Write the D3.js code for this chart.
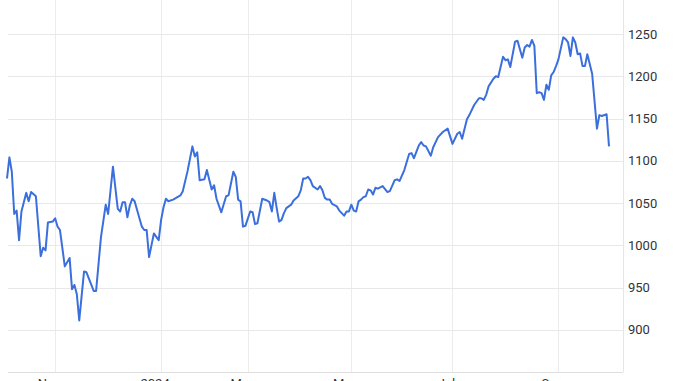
<!DOCTYPE html>
<html>
<head>
<meta charset="utf-8">
<title>Price chart</title>
<script src="https://cdn.jsdelivr.net/npm/d3@7"></script>
<style>
  html, body { margin: 0; padding: 0; background: #fff; }
  svg { display: block; font-family: Roboto, "Noto Sans", Arial, sans-serif; }
</style>
</head>
<body>
<script>
// trading session index (0 = first session shown) and closing value
const sessions = [0,1,2,3,4,5,6,8,9,10,12,14,15,16,17,19,20,21,22,24,26,27,28,29,30,32,33,36,37,39,41,42,44,
  46,47,48,49,50,51,52,53,56,57,58,59,61,62,63,64,65,66,67,69,72,73,75,77,78,79,80,82,83,85,86,87,89,
  91,92,94,95,96,97,98,99,101,102,103,104,106,108,109,110,111,112,113,114,115,116,117,118,119,121,122,
  123,124,125,126,127,129,130,131,132,133,134,135,137,138,140,141,142,143,144,145,146,147,148,149,150,
  151,152,153,154,156,158,159,161,162,163,165,167,168,169,171,172,173,174,176,177,179,181,183,185,187,
  188,189,191,192,194,196,197,198,199,200,202,203,204,206,207,208,209,211,212,214,215,216,217,218,219,
  220,221,222,223,224,225,226,227,228,229,231,232,233,234,235,236,237,238,239,240,241,243,245,246,247,249,250];
const closes = [1079,1104,1087,1037,1041,1006,1040,1062,1052,1063,1058,987,997,994,1027,1028,1032,1022,1018,
  975,985,948,953,942,911,969,968,946,946,1009,1048,1037,1093,
  1043,1040,1051,1051,1033,1047,1055,1052,1022,1018,1018,986,1014,1010,1006,1030,1045,1055,1052,1054,1059,1064,1088,
  1117,1105,1110,1077,1078,1089,1066,1071,1055,1039,
  1058,1059,1087,1081,1054,1052,1022,1023,1040,1039,1025,1026,1055,1053,1051,1040,1062,1044,1028,1030,1038,1044,1046,1048,1053,1058,1065,
  1079,1079,1081,1077,1070,1066,1070,1065,1056,1054,1054,1049,1046,1041,1035,1040,1040,1048,1041,1040,1052,1054,1057,1058,1066,
  1065,1060,1068,1067,1070,1063,1064,1077,1078,1076,1089,1108,1109,1103,1118,1122,1118,1117,1106,1116,1128,1134,1138,1120,1132,
  1134,1126,1149,1154,1166,1174,1174,1172,1178,1188,1197,1200,1199,1223,1219,1220,1211,1241,1242,1222,1234,1237,1235,1243,1236,
  1180,1181,1180,1172,1190,1184,1201,1205,1212,1220,1246,1244,1240,1224,1246,1240,1226,1227,1212,1212,1226,1203,1138,1154,1153,1155,1117];

const xTickSessions = [20, 64, 100, 143, 185, 229];
const xTickLabels = ["Nov", "2024", "Mar", "May", "Jul", "Sep"];
const yTicks = [900, 950, 1000, 1050, 1100, 1150, 1200, 1250];

const width = 678;
const height = 381;
const plotLeft = 8;
const plotRight = 623;
const plotBottom = 372;

const data = sessions.map((s, i) => ({ s: s, v: closes[i] }));

const x = d3.scaleLinear().domain([0, 250]).range([7, 609]);
const y = d3.scaleLinear().domain([850, 1250]).range([plotBottom, 34]);

const svg = d3.select("body").append("svg")
    .attr("width", width)
    .attr("height", height);

// vertical grid
svg.append("g")
  .selectAll("line")
  .data(xTickSessions)
  .join("line")
    .attr("x1", d => Math.round(x(d)) + 0.5)
    .attr("x2", d => Math.round(x(d)) + 0.5)
    .attr("y1", 0)
    .attr("y2", plotBottom)
    .attr("stroke", "#ececec")
    .attr("stroke-width", 1);

// horizontal grid
svg.append("g")
  .selectAll("line")
  .data(yTicks)
  .join("line")
    .attr("x1", plotLeft)
    .attr("x2", plotRight)
    .attr("y1", d => Math.round(y(d)) + 0.5)
    .attr("y2", d => Math.round(y(d)) + 0.5)
    .attr("stroke", "#e8e8e8")
    .attr("stroke-width", 1);

// right border + bottom axis line
svg.append("line")
    .attr("x1", plotRight + 0.5).attr("x2", plotRight + 0.5)
    .attr("y1", 0).attr("y2", plotBottom)
    .attr("stroke", "#e6e6e6");
svg.append("line")
    .attr("x1", plotLeft).attr("x2", plotRight)
    .attr("y1", plotBottom + 0.5).attr("y2", plotBottom + 0.5)
    .attr("stroke", "#dedede");

// y labels on the right
svg.append("g")
  .selectAll("text")
  .data(yTicks)
  .join("text")
    .attr("x", plotRight + 5)
    .attr("y", d => y(d))
    .attr("dy", "0.35em")
    .attr("font-size", 13)
    .attr("fill", "#333")
    .text(d => d);

// x labels (the page crops them, as in the original)
svg.append("g")
  .selectAll("text")
  .data(xTickSessions)
  .join("text")
    .attr("x", d => x(d) - 6)
    .attr("y", 388)
    .attr("text-anchor", "middle")
    .attr("font-size", 13)
    .attr("fill", "#333")
    .text((d, i) => xTickLabels[i]);

const line = d3.line()
    .x(d => x(d.s))
    .y(d => y(d.v));

svg.append("path")
    .datum(data)
    .attr("fill", "none")
    .attr("stroke", "#3b6fdc")
    .attr("stroke-width", 2)
    .attr("stroke-linejoin", "round")
    .attr("d", line);
</script>
</body>
</html>
